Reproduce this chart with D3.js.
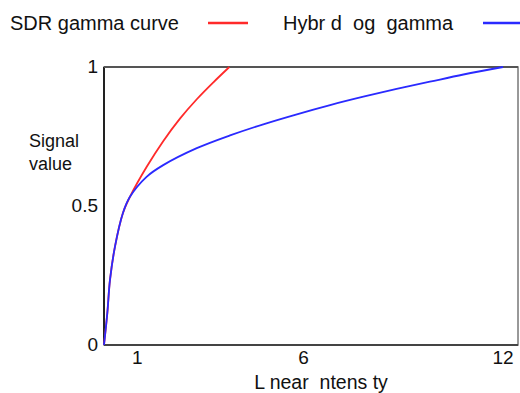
<!DOCTYPE html>
<html>
<head>
<meta charset="utf-8">
<script src="https://cdn.jsdelivr.net/npm/d3@7"></script>
<style>
  body { margin: 0; background: #fff; }
  text { font-family: "Liberation Sans", Arial, sans-serif; fill: #111; white-space: pre; }
</style>
</head>
<body>
<script>
	// data
	var sdrL = [0, 0.10, 0.18, 0.33, 0.57, 0.78, 1.28, 1.78, 2.29, 2.79, 3.29, 3.77]
	var sdrV = [0, 0.115, 0.234, 0.354, 0.475, 0.533, 0.640, 0.733, 0.815, 0.884, 0.945, 1.0]
	var hlgL = [0, 0.10, 0.18, 0.33, 0.57, 0.78, 1.28, 1.78, 2.79, 3.79, 4.79, 5.80, 6.80, 7.80, 8.80, 9.80, 10.81, 12]
	var hlgV = [0, 0.115, 0.234, 0.354, 0.475, 0.533, 0.605, 0.647, 0.708, 0.754, 0.794, 0.830, 0.863, 0.893, 0.921, 0.947, 0.973, 1.0]
	var xTicks = [1, 6, 12]
	var yTicks = [0, 0.5, 1]
	var seriesNames = ['SDR gamma curve', 'Hybr d  og  gamma']
	var seriesColors = ['#ff2a2a', '#2a2aff']

	var width = 520, height = 393

	var svg = d3.select("body").append("svg")
		.attr("width", width)
		.attr("height", height)

	var x = d3.scaleLinear().domain([0, 12.45]).range([104, 518])
	var y = d3.scaleLinear().domain([0, 1]).range([345, 67])

	// frame
	svg.append('rect')
		.attr('x', x(0)).attr('y', y(1))
		.attr('width', x(12.45) - x(0)).attr('height', y(0) - y(1))
		.attr('fill', 'none').attr('stroke', '#777').attr('stroke-width', 1.5)
	svg.append('line')
		.attr('x1', x(0)).attr('x2', x(0)).attr('y1', y(1)).attr('y2', y(0))
		.attr('stroke', '#222').attr('stroke-width', 2)
	svg.append('line')
		.attr('x1', x(0)).attr('x2', x(12.45)).attr('y1', y(0)).attr('y2', y(0))
		.attr('stroke', '#444').attr('stroke-width', 2)
	svg.append('line')
		.attr('x1', x(0)).attr('x2', x(12.45)).attr('y1', y(1)).attr('y2', y(1))
		.attr('stroke', '#555').attr('stroke-width', 2)

	// curves
	var line = d3.line()
		.x(d => x(d[0]))
		.y(d => y(d[1]))
		.curve(d3.curveCatmullRom.alpha(0.5))
	var series = [d3.zip(sdrL, sdrV), d3.zip(hlgL, hlgV)]
	svg.selectAll('path.curve')
		.data(series)
		.enter()
		.append('path')
		.attr('class', 'curve')
		.attr('fill', 'none')
		.attr('stroke', (d, i) => seriesColors[i])
		.attr('stroke-width', 1.8)
		.attr('d', line)

	// tick labels
	svg.selectAll('text.xt')
		.data(xTicks)
		.enter()
		.append('text')
		.attr('class', 'xt')
		.attr('x', d => x(d))
		.attr('y', 364)
		.attr('text-anchor', 'middle')
		.attr('font-size', 19)
		.text(d => d)
	svg.selectAll('text.yt')
		.data(yTicks)
		.enter()
		.append('text')
		.attr('class', 'yt')
		.attr('x', 98)
		.attr('y', d => y(d) + 6)
		.attr('text-anchor', 'end')
		.attr('font-size', 19)
		.text(d => d)

	// axis titles
	svg.append('text')
		.attr('x', 29).attr('y', 147)
		.attr('font-size', 18)
		.text('Signal')
	svg.append('text')
		.attr('x', 29).attr('y', 170)
		.attr('font-size', 18)
		.text('value')
	svg.append('text')
		.attr('x', 321).attr('y', 389)
		.attr('text-anchor', 'middle')
		.attr('font-size', 19.5)
		.text('L near  ntens ty')

	// legend
	var legendX = [[10, 208], [283, 483]]
	seriesNames.forEach((name, i) => {
		svg.append('text')
			.attr('x', legendX[i][0]).attr('y', 30)
			.attr('font-size', 20)
			.text(name)
		svg.append('line')
			.attr('x1', legendX[i][1]).attr('x2', legendX[i][1] + 40)
			.attr('y1', 23).attr('y2', 23)
			.attr('stroke', seriesColors[i]).attr('stroke-width', 2.5)
	})
</script>
</body>
</html>
